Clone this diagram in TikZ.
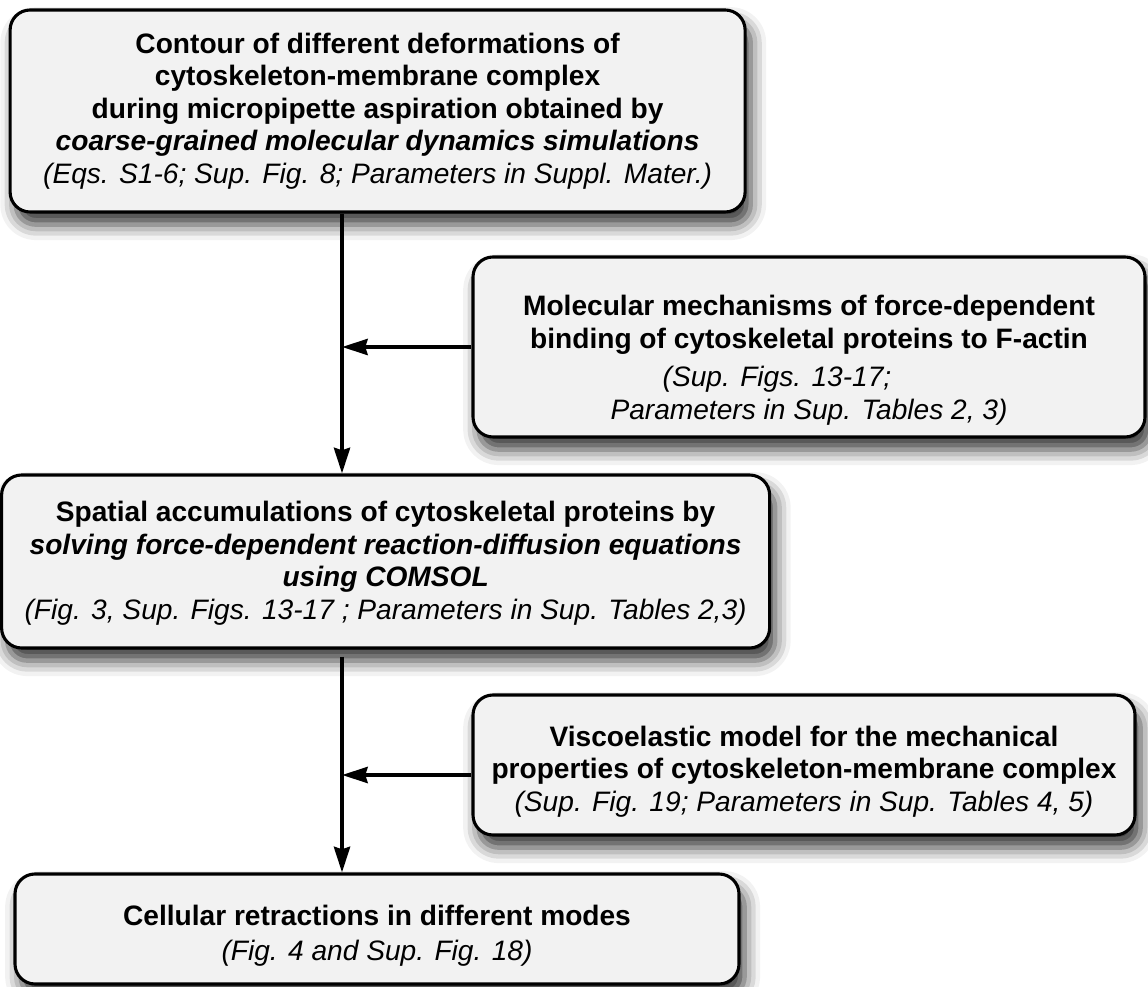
\documentclass[tikz,border=0pt]{standalone}
\usepackage{fontspec}
\setmainfont{Liberation Sans}
\usetikzlibrary{arrows.meta,shadows.blur}
\definecolor{boxgray}{HTML}{F2F2F2}
\begin{document}
\begin{tikzpicture}[font=\fontsize{20}{23.2}\selectfont,stagebox/.style={draw,line width=2.2pt,fill=boxgray,rounded corners=0.5cm,align=center,inner sep=0pt,blur shadow={shadow xshift=4pt,shadow yshift=-9pt,shadow blur radius=11pt,shadow opacity=80}},flow/.style={line width=2.8pt,-{Stealth[length=6.4mm,width=4mm,inset=0.6mm]}}]
\useasboundingbox (0,0) rectangle (28.7,24.65);
\node[stagebox,minimum width=18.375cm,minimum height=5.05cm] (contour) at (9.44,21.875) {\textbf{Contour of different deformations of}\\\textbf{cytoskeleton-membrane complex}\\\textbf{during micropipette aspiration obtained by}\\\textbf{\textit{coarse-grained molecular dynamics simulations}}\\\textit{(Eqs. S1-6; Sup. Fig. 8; Parameters in Suppl. Mater.)}};
\node[stagebox,minimum width=16.8cm,minimum height=4.5cm] (binding) at (20.225,15.975) {\rule{0pt}{33pt}\textbf{Molecular mechanisms of force-dependent}\\\textbf{binding of cytoskeletal proteins to F-actin}\\[4pt]\hspace*{-1.6cm}\textit{(Sup. Figs. 13-17;}\\\textit{Parameters in Sup. Tables 2, 3)}};
\node[stagebox,minimum width=19.2cm,minimum height=4.325cm] (spatial) at (9.64,10.6125) {\rule{0pt}{17pt}\textbf{Spatial accumulations of cytoskeletal proteins by}\\\textbf{\textit{solving force-dependent reaction-diffusion equations}}\\\textbf{\textit{using COMSOL}}\\\textit{(Fig. 3, Sup. Figs. 13-17 ; Parameters in Sup. Tables 2,3)}};
\node[stagebox,minimum width=16.55cm,minimum height=3.5cm] (viscous) at (20.1,5.525) {\rule{0pt}{24pt}\textbf{Viscoelastic model for the mechanical}\\\textbf{properties of cytoskeleton-membrane complex}\\\textit{(Sup. Fig. 19; Parameters in Sup. Tables 4, 5)}};
\node[stagebox,minimum width=18.1cm,minimum height=2.75cm] (retract) at (9.425,1.425) {\rule{0pt}{24pt}\textbf{Cellular retractions in different modes}\\[2pt]\textit{(Fig. 4 and Sup. Fig. 18)}};
\coordinate (spine) at (8.55,0); \coordinate (viscin) at ([yshift=-0.25cm]viscous.west);
\draw[flow] (contour.south -| spine) -- (spine |- spatial.north); \draw[flow] (binding.west) -- (spine |- binding.west);
\draw[flow,shorten <=0.18cm] (spatial.south -| spine) -- (spine |- retract.north); \draw[flow] (viscin) -- (spine |- viscin);
\end{tikzpicture}
\end{document}
